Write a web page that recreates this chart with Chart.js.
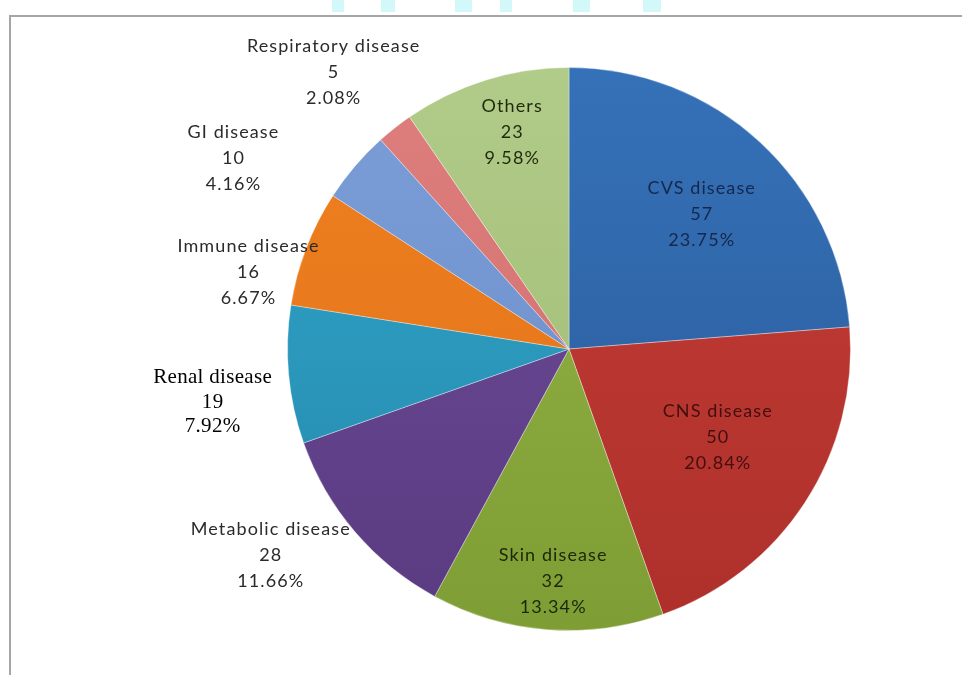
<!DOCTYPE html>
<html>
<head>
<meta charset="utf-8">
<script src="https://cdn.jsdelivr.net/npm/chart.js@4.4.1/dist/chart.umd.min.js"></script>
<style>
  html, body { margin: 0; padding: 0; background: #fff; }
  canvas { display: block; }
</style>
</head>
<body>
<canvas id="pie" width="962" height="675"></canvas>
<script>
// disease categories, clockwise from 12 o'clock
const categories = ['CVS disease', 'CNS disease', 'Skin disease', 'Metabolic disease',
  'Renal disease', 'Immune disease', 'GI disease', 'Respiratory disease', 'Others'];
const counts = [57, 50, 32, 28, 19, 16, 10, 5, 23];
const pctLabels = ['23.75%', '20.84%', '13.34%', '11.66%', '7.92%', '6.67%', '4.16%', '2.08%', '9.58%'];

// [top, bottom] colour of each slice's vertical gradient
const sliceColors = [
  ['#3571b8', '#2a5a98'],
  ['#c63d36', '#ae302b'],
  ['#95b547', '#7e9e35'],
  ['#704d9c', '#593b80'],
  ['#2fa7cc', '#2688ab'],
  ['#f0821f', '#df6f1b'],
  ['#7b9ed9', '#6a8bc5'],
  ['#de7e7d', '#cd6e6d'],
  ['#b1cb88', '#9eba73']
];
const textColors = ['#15284c', '#420e0e', '#1b260a', '#2b2b2b', '#000', '#2b2b2b', '#2b2b2b', '#2b2b2b', '#1f2a0c'];
// label anchor: [fraction of radius, angle shift in degrees from the slice middle]
const labelPlace = [[0.672, 1.8], [0.614, -2.4], [0.828, -0.6], [1.287, 5.9], [1.28, -3.25],
  [1.171, -7.5], [1.371, -10.9], [1.29, -2.15], [0.795, 2.55]];

const pageFrame = {
  id: 'pageFrame',
  beforeDraw(chart) {
    const c = chart.ctx;
    c.save();
    c.fillStyle = '#fff';
    c.fillRect(0, 0, chart.width, chart.height);
    // cyan bits of the banner above the frame
    c.fillStyle = '#d2f8fa';
    [[332, 12], [381, 14], [455, 17], [500, 12], [573, 17], [643, 18]].forEach(([x, w]) => {
      c.fillRect(x, 0, w, 12);
    });
    c.strokeStyle = '#a6a6a6';
    c.lineWidth = 2;
    c.beginPath();
    c.moveTo(10, chart.height);
    c.lineTo(10, 16);
    c.lineTo(chart.width, 16);
    c.stroke();
    c.restore();
  }
};

const sliceLabels = {
  id: 'sliceLabels',
  afterDatasetsDraw(chart) {
    const c = chart.ctx;
    const arcs = chart.getDatasetMeta(0).data;
    c.save();
    c.textAlign = 'center';
    c.textBaseline = 'middle';
    arcs.forEach((arc, i) => {
      const p = arc.getProps(['x', 'y', 'startAngle', 'endAngle', 'outerRadius'], true);
      const [f, shift] = labelPlace[i];
      const a = (p.startAngle + p.endAngle) / 2 + shift * Math.PI / 180;
      const x = p.x + Math.cos(a) * p.outerRadius * f;
      const y = p.y + Math.sin(a) * p.outerRadius * f;
      const serif = categories[i] === 'Renal disease';
      c.font = serif ? '21px "Liberation Serif", serif' : '18px Lato, sans-serif';
      c.letterSpacing = serif ? '0.3px' : '1.1px';
      c.fillStyle = textColors[i];
      const lines = [categories[i], String(counts[i]), pctLabels[i]];
      const step = serif ? 24.5 : 26;
      lines.forEach((t, k) => c.fillText(t, x, y + (k - 1) * step));
    });
    c.restore();
  }
};

new Chart(document.getElementById('pie'), {
  type: 'pie',
  data: {
    labels: categories,
    datasets: [{
      data: counts,
      backgroundColor: (ctx) => {
        const [top, bottom] = sliceColors[ctx.dataIndex];
        const area = ctx.chart.chartArea;
        if (!area) return top;
        const g = ctx.chart.ctx.createLinearGradient(0, area.top, 0, area.bottom);
        g.addColorStop(0, top);
        g.addColorStop(1, bottom);
        return g;
      },
      borderColor: 'rgba(255,255,255,0.35)',
      borderWidth: 1
    }]
  },
  options: {
    responsive: false,
    animation: false,
    layout: { padding: { left: 287, right: 111, top: 67, bottom: 44 } },
    plugins: {
      legend: { display: false },
      tooltip: { enabled: false }
    }
  },
  plugins: [pageFrame, sliceLabels]
});
</script>
</body>
</html>
